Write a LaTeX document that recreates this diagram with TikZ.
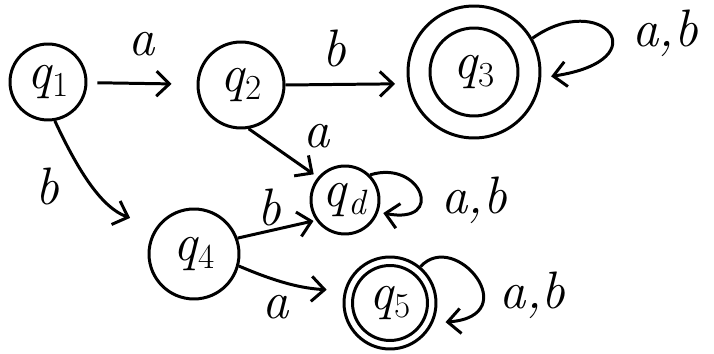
\documentclass[tikz,border=0pt]{standalone}
\usepackage{fontspec}
\usetikzlibrary{arrows.meta}

\newcommand{\stname}[1]{\textit{q}\raisebox{-0.35ex}{\fontsize{20}{20}\selectfont #1}}

\begin{document}
\begin{tikzpicture}[
    x=0.02cm, y=0.02cm,
    >={Straight Barb[length=2.6mm,width=5mm]},
    line width=1.7pt,
    font=\fontsize{30}{32}\selectfont,
    state/.style={
        draw=black,
        circle,
        inner sep=0pt,
        minimum size=#1
    },
    ring/.style={
        path picture={\draw[line width=1.7pt] (path picture bounding box.center) circle[radius=#1];}
    },
    edge/.style={->, draw=black},
    lbl/.style={inner sep=2pt, font=\fontsize{30}{32}\selectfont\itshape}
]

    \useasboundingbox (0,0) rectangle (714,-354);

    % states
    \node[state=1.52cm] (q1) at (48,-82) {\stname{1}};
    \node[state=1.72cm] (q2) at (241,-85) {\stname{2}};
    \node[state=2.64cm, ring=0.88cm] (q3) at (474,-72) {\stname{3}};
    \node[state=1.36cm] (qd) at (345,-200) {\stname{\textit{d}}};
    \node[state=1.8cm] (q4) at (194,-254) {\stname{4}};
    \node[state=1.84cm, ring=0.75cm] (q5) at (390,-303) {\stname{5}};

    % transitions
    \draw[edge, shorten <=0.2cm, shorten >=0.5cm] (q1) -- node[lbl, above=0.45cm] {a} (q2);
    \draw[edge, shorten >=0.25cm] (q2.east) -- node[lbl, above=0.25cm, pos=0.4] {b} (q3.190);
    \draw[edge, shorten >=0.2cm] (q3.30) .. controls +(69,49) and +(120,18) .. node[lbl, pos=0.4, right=0.55cm, yshift=-0.15cm] {a,b} (q3.-5);
    \draw[edge, shorten >=0.55cm] (q1.-80) to[out=-65, in=160] node[lbl, pos=0.5, left=0.6cm] {b} (q4.145);
    \draw[edge, shorten >=0.1cm] (q2.-80) -- node[lbl, above right, xshift=0.3cm] {a} (qd.140);
    \draw[edge, shorten >=0.1cm] (qd.45) .. controls +(51,16) and +(68,-13) .. node[lbl, pos=0.5, right=0.35cm, yshift=-0.15cm] {a,b} (qd.-20);
    \draw[edge, shorten >=0.05cm] (q4.20) -- node[lbl, above, pos=0.4] {b} (qd.215);
    \draw[edge, shorten >=0.35cm] (q4.-15) to[bend right=10] node[lbl, below=0.2cm, pos=0.35] {a} (q5.165);
    \draw[edge, shorten >=0.25cm] (q5.50) .. controls +(35,38) and +(93,7) .. node[lbl, pos=0.5, right=0.4cm, yshift=-0.35cm] {a,b} (q5.-25);

\end{tikzpicture}
\end{document}
